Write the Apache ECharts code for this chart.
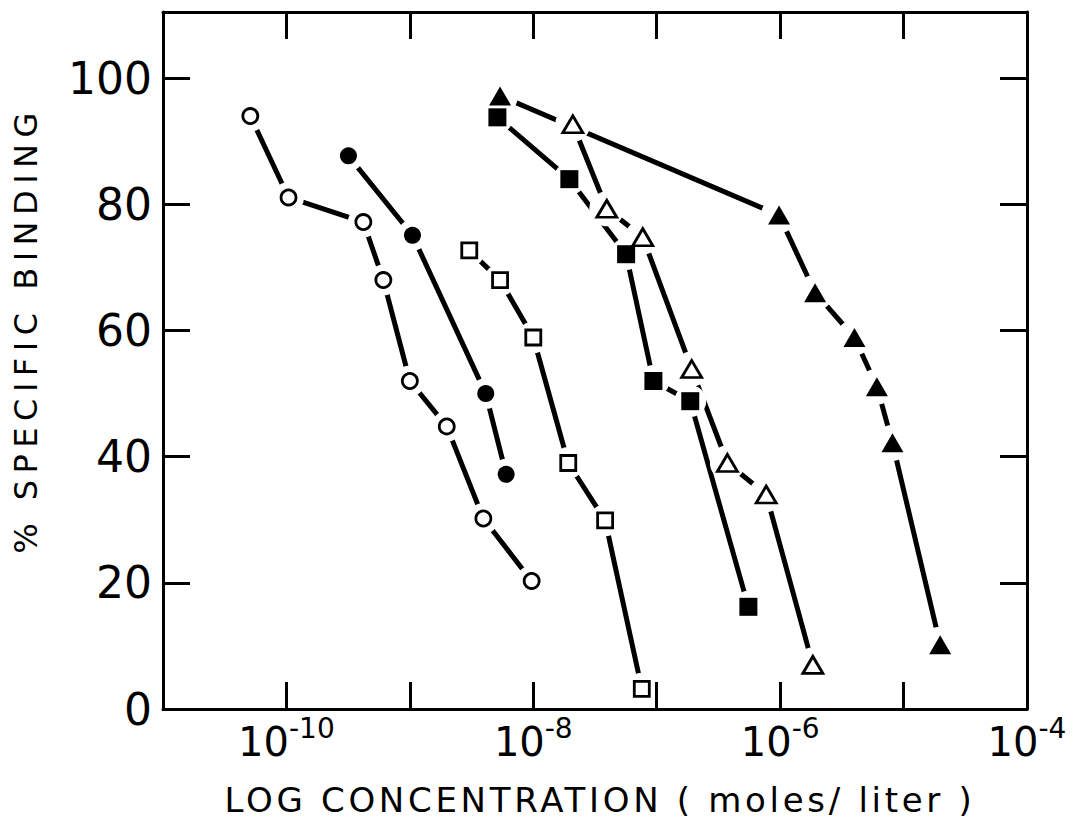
<!DOCTYPE html>
<html>
<head>
<meta charset="utf-8">
<script src="https://cdn.jsdelivr.net/npm/echarts@6/dist/echarts.min.js"></script>
<style>
html,body{margin:0;padding:0;background:#ffffff;}
#c{width:1085px;height:828px;}
</style>
</head>
<body>
<div id="c"></div>
<script>
// ---- data (concentration in moles/liter, % specific binding) ----
const openCircleX   = [5.1e-11, 1.04e-10, 4.2e-10, 6.1e-10, 1.0e-9, 1.99e-9, 3.94e-9, 9.7e-9];
const openCircleY   = [94.0, 81.1, 77.2, 68.0, 52.0, 44.8, 30.2, 20.3];

const filledCircleX = [3.18e-10, 1.05e-9, 4.12e-9, 6.03e-9];
const filledCircleY = [87.7, 75.1, 50.0, 37.2];

const openSquareX   = [3.03e-9, 5.38e-9, 1.0e-8, 1.92e-8, 3.82e-8, 7.57e-8];
const openSquareY   = [72.7, 68.0, 58.9, 39.0, 29.9, 3.2];

const filledSquareX = [5.12e-9, 1.96e-8, 5.65e-8, 9.4e-8, 1.87e-7, 5.53e-7];
const filledSquareY = [93.8, 84.0, 72.1, 52.0, 48.8, 16.2];

const openTriangleX = [2.09e-8, 3.94e-8, 7.71e-8, 1.92e-7, 3.74e-7, 7.71e-7, 1.84e-6];
const openTriangleY = [92.7, 79.3, 74.8, 53.9, 39.0, 34.0, 7.0];

const filledTriangleX = [5.38e-9, 9.8e-7, 1.92e-6, 4.0e-6, 6.08e-6, 8.13e-6, 1.98e-5];
const filledTriangleY = [97.2, 78.3, 66.0, 58.9, 51.1, 42.2, 10.2];

const xLabelExponents = [-10, -8, -6, -4];
const yTickLabels = [0, 20, 40, 60, 80, 100];

const xTitle = 'LOG CONCENTRATION ( moles/ liter )';
const yTitle = '% SPECIFIC BINDING';

// ---- build ----
const FONT = 'DejaVu Sans';
function pairs(xs, ys){ return xs.map((x,i)=>[x, ys[i]]); }

function group(name, xs, ys, symbol, size, filled, halo){
  const d = pairs(xs, ys);
  return [
    { name: name+'-line', type:'line', data:d, symbol:'none', showSymbol:false, silent:true, z:-3,
      lineStyle:{color:'#000', width:5, cap:'round', opacity:1} },
    { name: name+'-halo', type:'scatter', data:d, symbol:'circle', symbolSize:halo, silent:true, z:-2,
      itemStyle:{color:'#ffffff', opacity:1} },
    { name: name, type:'scatter', data:d, symbol:symbol, symbolSize:size, silent:true, z:-1,
      itemStyle: filled ? {color:'#000', opacity:1}
                        : {color:'#ffffff', borderColor:'#000', borderWidth:2.8, opacity:1} }
  ];
}

const series = [].concat(
  group('openCircle', openCircleX, openCircleY, 'circle', 15, false, 31),
  group('filledCircle', filledCircleX, filledCircleY, 'circle', 17, true, 31),
  group('openSquare', openSquareX, openSquareY, 'rect', 15, false, 32),
  group('filledSquare', filledSquareX, filledSquareY, 'rect', 18, true, 32),
  group('openTriangle', openTriangleX, openTriangleY, 'triangle', [20,17], false, 35),
  group('filledTriangle', filledTriangleX, filledTriangleY, 'triangle', [22,19], true, 36)
);

const axisLine = {show:true, onZero:false, lineStyle:{color:'#000', width:3}};
const axisTick = {show:true, inside:true, length:27, lineStyle:{color:'#000', width:3}};

const option = {
  animation:false,
  backgroundColor:'#ffffff',
  grid:{left:163, right:58, top:12, bottom:119, containLabel:false},
  xAxis:[
    { type:'log', logBase:10, min:1e-11, max:1e-4, interval:1, position:'bottom', z:10,
      axisLine, axisTick, splitLine:{show:false}, minorTick:{show:false},
      axisLabel:{ show:true, margin:5, color:'#000', showMinLabel:true, showMaxLabel:true,
        formatter: v => { const e = Math.round(Math.log10(v));
          return xLabelExponents.includes(e) ? '{b|10}{s|-' + Math.abs(e) + '}' : ''; },
        rich:{
          b:{fontFamily:FONT, fontSize:40, lineHeight:56, color:'#000'},
          s:{fontFamily:FONT, fontSize:28, lineHeight:28, verticalAlign:'top', color:'#000'}
        } } },
    { type:'log', logBase:10, min:1e-11, max:1e-4, interval:1, position:'top', z:10,
      axisLine, axisTick, splitLine:{show:false}, axisLabel:{show:false} }
  ],
  yAxis:[
    { type:'value', min:0, max:110.5, interval:20, position:'left', z:10,
      axisLine, axisTick, splitLine:{show:false},
      axisLabel:{ margin:11, color:'#000', fontFamily:FONT, fontSize:44,
        formatter: v => yTickLabels.includes(v) ? String(v) : '' } },
    { type:'value', min:0, max:110.5, interval:20, position:'right', z:10,
      axisLine, axisTick, splitLine:{show:false}, axisLabel:{show:false} }
  ],
  graphic:[
    { type:'text', x:26, y:330, rotation:Math.PI/2, silent:true,
      style:{text:yTitle, font:'32px "DejaVu Sans"', fill:'#000', textAlign:'center', textVerticalAlign:'middle'} },
    { type:'text', x:600, y:800, silent:true,
      style:{text:xTitle, font:'34px "DejaVu Sans"', fill:'#000', textAlign:'center', textVerticalAlign:'middle'} }
  ],
  series
};

const chart = echarts.init(document.getElementById('c'), null, {renderer:'svg'});
chart.setOption(option);

function spaceTitles(){
  document.querySelectorAll('#c text').forEach(t => {
    const s = t.textContent;
    if (s === yTitle) t.setAttribute('letter-spacing', '6.5');
    else if (s === xTitle) t.setAttribute('letter-spacing', '3.7');
  });
}
spaceTitles();
chart.on('finished', spaceTitles);
setTimeout(spaceTitles, 0);
</script>
</body>
</html>
